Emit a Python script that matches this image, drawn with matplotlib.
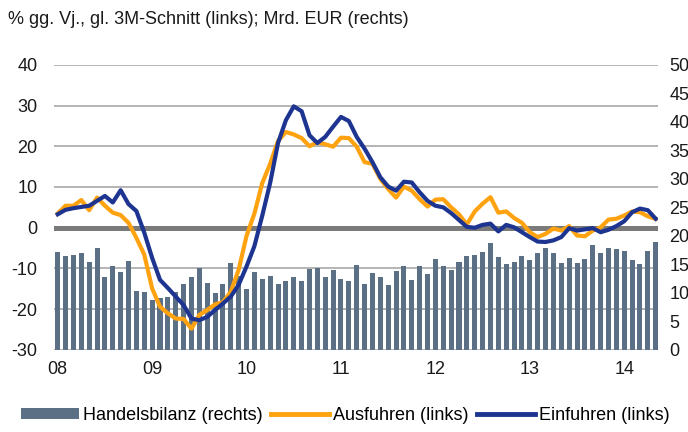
import matplotlib
matplotlib.use("Agg")
import matplotlib.pyplot as plt
import numpy as np
from matplotlib.patches import Patch
from matplotlib.lines import Line2D

plt.rcParams['font.family'] = ['Liberation Sans', 'DejaVu Sans']
plt.rcParams['axes.unicode_minus'] = False

# monthly data, Jan 2008 - May 2014
year_labels = ['08', '09', '10', '11', '12', '13', '14']

handelsbilanz = [17.2, 16.5, 16.6, 17.0, 15.4, 17.8, 12.8, 14.7, 13.6, 15.6,
                 10.4, 10.1, 8.7, 9.1, 9.2, 10.1, 11.5, 12.8, 14.4, 11.8,
                 9.9, 11.6, 15.3, 12.9, 10.6, 13.7, 12.5, 13.0, 11.5, 12.1,
                 12.8, 12.0, 14.2, 14.4, 12.7, 14.0, 12.5, 12.1, 14.9, 11.6,
                 13.5, 12.7, 11.3, 13.8, 14.7, 12.2, 14.7, 13.4, 15.9, 14.7,
                 14.0, 15.4, 16.5, 16.7, 17.1, 18.7, 16.3, 15.0, 15.5, 16.5,
                 15.8, 17.0, 17.8, 17.0, 15.3, 16.1, 15.3, 16.0, 18.4, 17.0,
                 17.9, 17.7, 17.4, 15.8, 15.0, 17.4, 18.9]

ausfuhren = [3.5, 5.4, 5.4, 6.8, 4.3, 7.4, 5.4, 3.7, 3.1, 1.2,
             -2.5, -6.6, -14.9, -19.4, -21.0, -22.3, -22.4, -24.8, -21.4, -20.2,
             -18.8, -18.3, -15.7, -10.3, -2.0, 3.5, 11.0, 15.7, 21.3, 23.5,
             22.9, 22.0, 20.0, 21.0, 20.5, 19.9, 22.1, 22.0, 19.9, 16.1,
             15.7, 12.0, 9.5, 7.4, 10.1, 9.1, 7.0, 5.2, 6.9, 7.0,
             5.0, 3.3, 0.8, 4.0, 5.9, 7.5, 3.7, 4.0, 2.4, 1.2,
             -1.1, -2.3, -1.5, -0.2, -0.7, 0.4, -1.9, -2.1, -0.7, 0.1,
             2.0, 2.2, 3.0, 4.0, 3.8, 2.8, 2.2]

einfuhren = [3.3, 4.4, 4.8, 5.1, 5.4, 6.6, 7.8, 6.2, 9.2, 5.8,
             4.1, -1.2, -7.4, -12.8, -14.8, -16.9, -19.0, -22.3, -22.7, -21.9,
             -20.2, -18.6, -16.9, -14.0, -9.5, -4.5, 3.0, 11.0, 20.8, 26.4,
             29.8, 28.6, 22.7, 20.8, 22.3, 24.8, 27.2, 26.2, 22.3, 19.4,
             16.1, 12.4, 10.1, 9.1, 11.3, 11.1, 8.7, 6.6, 5.4, 5.0,
             3.6, 1.9, 0.2, 0.0, 0.7, 1.0, -0.9, 0.7, 0.1, -1.1,
             -2.3, -3.4, -3.5, -3.1, -2.3, -0.1, -0.7, -0.4, -0.1, -1.1,
             -0.5, 0.4, 1.6, 3.8, 4.7, 4.3, 2.2]

bar_color = '#5b6f85'
orange = '#ffa20f'
navy = '#1d3590'
grid_color = '#a8a8a8'
fs = 13

x = np.arange(len(handelsbilanz))

fig = plt.figure(figsize=(6.88, 4.32), dpi=100)
ax = fig.add_axes([0.0785, 0.19, 0.878, 0.66])
ax2 = ax.twinx()
ax3 = ax.twinx()

# left axis: grid only
ax.set_ylim(-30, 40)
ax.set_yticks(range(-30, 41, 10))
ax.yaxis.grid(True, color=grid_color, linewidth=1.2)
ax.set_axisbelow(True)
ax.set_xlim(-0.47, 76.3)
ax.set_xticks(np.arange(0, 73, 12))
ax.set_xticklabels(year_labels)
ax.tick_params(length=0, labelsize=fs, colors='#1a1a1a')
ax.tick_params(axis='y', pad=12)
ax.tick_params(axis='x', pad=8)

# right axis: bars
ax2.bar(x, handelsbilanz, width=0.64, color=bar_color, zorder=2)
ax2.set_ylim(0, 50)
ax2.set_yticks(range(0, 51, 5))
ax2.tick_params(length=0, labelsize=fs, colors='#1a1a1a', pad=8)

# lines on top
ax3.axhline(0, color='#7a7a7a', linewidth=3.6, zorder=1)
ax3.plot(x, ausfuhren, color=orange, linewidth=3.0, zorder=3, solid_joinstyle='round')
ax3.plot(x, einfuhren, color=navy, linewidth=3.0, zorder=4, solid_joinstyle='round')
ax3.set_ylim(-30, 40)
ax3.set_yticks([])

for a in (ax, ax2, ax3):
    for s in a.spines.values():
        s.set_visible(False)

fig.text(0.012, 0.975, '% gg. Vj., gl. 3M-Schnitt (links); Mrd. EUR (rechts)',
         fontsize=fs, va='top', ha='left', color='#1a1a1a')

handles = [Patch(facecolor=bar_color, edgecolor='none'),
           Line2D([], [], color=orange, linewidth=3.5),
           Line2D([], [], color=navy, linewidth=3.5)]
labels = ['Handelsbilanz (rechts)', 'Ausfuhren (links)', 'Einfuhren (links)']
fig.legend(handles, labels, loc='lower left', bbox_to_anchor=(0.012, -0.01), ncol=3,
           frameon=False, fontsize=fs, handlelength=3.2, handleheight=0.55,
           handletextpad=0.25, columnspacing=0.45, borderaxespad=0.3)

fig.savefig('out.png', dpi=100)
